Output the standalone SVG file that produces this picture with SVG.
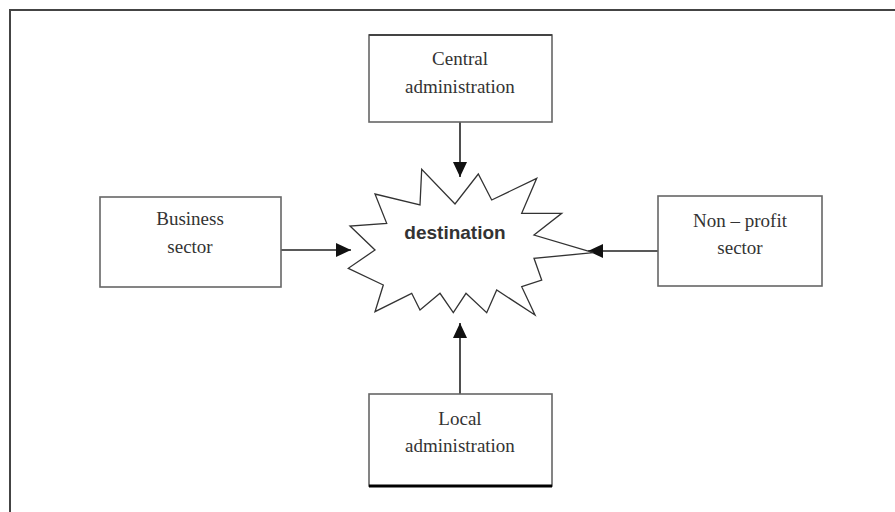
<svg xmlns="http://www.w3.org/2000/svg" width="895" height="512" viewBox="0 0 895 512">
<style>
.box{fill:#fff;stroke:#666;stroke-width:1.6}
.t{font-family:"Liberation Serif",serif;font-size:19px;fill:#333;text-anchor:middle}
.c{stroke:#222;stroke-width:1.6;fill:none}
</style>
<defs>
<marker id="ah" markerWidth="16" markerHeight="14" refX="15" refY="7" orient="auto" markerUnits="userSpaceOnUse">
<path d="M0,0 L15,7 L0,14 Z" fill="#111"/>
</marker>
</defs>
<rect width="895" height="512" fill="#fff"/>
<path d="M10,520 V10 H900" fill="none" stroke="#444" stroke-width="2"/>
<g id="connectors">
<line class="c" x1="460" y1="122" x2="460" y2="177" marker-end="url(#ah)"/>
<line class="c" x1="460" y1="394" x2="460" y2="323" marker-end="url(#ah)"/>
<line class="c" x1="281" y1="250" x2="351" y2="250" marker-end="url(#ah)"/>
<line class="c" x1="658" y1="251" x2="588" y2="251" marker-end="url(#ah)"/>
</g>
<g id="destination">
<polygon points="420,205 421.7,169.3 455,204 478.3,174 491.7,200 536.7,178.3 521.7,213.3 561.7,213.3 534,235 593.3,252.7 534,258.3 541.7,280 521.7,286.7 535,315 496.7,290 486.7,312.7 466,293.3 453.3,312.7 440,293.3 420,310 411.7,293.3 375,311.7 383.3,285 348.3,268.3 375,250 350,226 386.7,223.3 375,194" fill="#fff" stroke="#333" stroke-width="1.3" stroke-linejoin="miter"/>
<text x="455" y="239" font-family="Liberation Sans,Arial,sans-serif" font-weight="bold" font-size="19" fill="#333" text-anchor="middle">destination</text>
</g>
<g id="central">
<rect class="box" x="369" y="35" width="183" height="87"/>
<line x1="369" y1="35" x2="552" y2="35" stroke="#444" stroke-width="2"/>
<text class="t" x="460" y="65">Central</text>
<text class="t" x="460" y="93">administration</text>
</g>
<g id="business">
<rect class="box" x="100" y="197" width="181" height="90"/>
<text class="t" x="190" y="225">Business</text>
<text class="t" x="190" y="253">sector</text>
</g>
<g id="nonprofit">
<rect class="box" x="658" y="196" width="164" height="90"/>
<text class="t" x="740" y="227">Non – profit</text>
<text class="t" x="740" y="254">sector</text>
</g>
<g id="local">
<rect class="box" x="369" y="394" width="183" height="92"/>
<line x1="369" y1="486" x2="552" y2="486" stroke="#000" stroke-width="3"/>
<text class="t" x="460" y="425">Local</text>
<text class="t" x="460" y="452">administration</text>
</g>
</svg>
